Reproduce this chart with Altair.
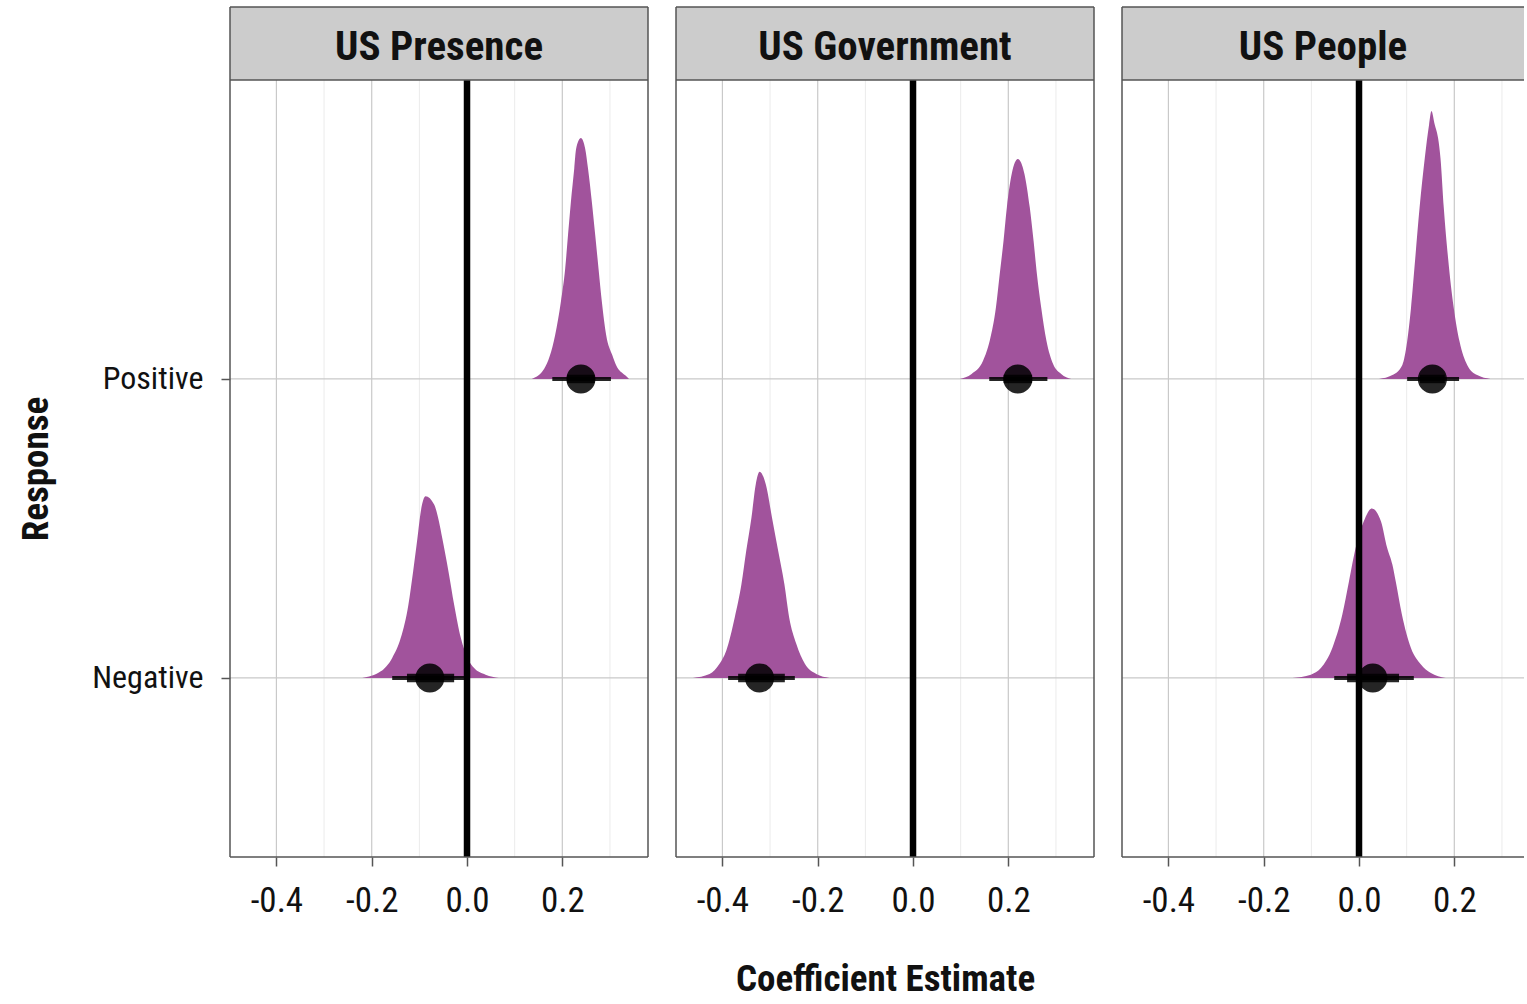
import altair as alt
import pandas as pd

FONT = "Roboto Condensed, DejaVu Sans Condensed, sans-serif"
PURPLE = "#A1539C"
FRAME = "#555555"

panels = ["US Presence", "US Government", "US People"]
responses = ["Negative", "Positive"]          # drawn at y = 1 and y = 2

# Posterior density outlines: coefficient value and scaled slab height
presence_pos_x = [0.136, 0.162, 0.185, 0.197, 0.206, 0.212, 0.218, 0.225, 0.229, 0.239,
                  0.248, 0.254, 0.262, 0.269, 0.276, 0.283, 0.292, 0.305, 0.313, 0.332, 0.340]
presence_pos_h = [0, 0.034, 0.147, 0.258, 0.369, 0.482, 0.592, 0.703, 0.770, 0.806,
                  0.770, 0.703, 0.592, 0.482, 0.369, 0.258, 0.147, 0.079, 0.046, 0.012, 0]
presence_neg_x = [-0.220, -0.181, -0.157, -0.139, -0.123, -0.113, -0.104, -0.097, -0.087,
                  -0.069, -0.059, -0.052, -0.039, -0.027, -0.013, 0.001, 0.015, 0.039, 0.067]
presence_neg_h = [0, 0.022, 0.067, 0.134, 0.245, 0.357, 0.468, 0.557, 0.608,
                  0.580, 0.524, 0.468, 0.357, 0.245, 0.134, 0.067, 0.033, 0.011, 0]
government_pos_x = [0.098, 0.123, 0.147, 0.161, 0.174, 0.182, 0.190, 0.197, 0.207, 0.220,
                    0.234, 0.245, 0.253, 0.260, 0.269, 0.280, 0.294, 0.311, 0.332]
government_pos_h = [0, 0.017, 0.061, 0.128, 0.239, 0.351, 0.462, 0.574, 0.685, 0.736,
                    0.685, 0.574, 0.462, 0.351, 0.239, 0.128, 0.050, 0.017, 0]
government_neg_x = [-0.462, -0.427, -0.406, -0.392, -0.374, -0.360, -0.350, -0.339, -0.330, -0.322,
                    -0.309, -0.296, -0.283, -0.270, -0.260, -0.245, -0.227, -0.203, -0.175]
government_neg_h = [0, 0.013, 0.047, 0.091, 0.203, 0.314, 0.425, 0.537, 0.648, 0.690,
                    0.648, 0.537, 0.425, 0.314, 0.203, 0.114, 0.047, 0.013, 0]
people_pos_x = [0.042, 0.070, 0.091, 0.101, 0.109, 0.118, 0.127, 0.138, 0.147, 0.152,
                0.159, 0.166, 0.171, 0.178, 0.187, 0.199, 0.211, 0.227, 0.248, 0.276]
people_pos_h = [0, 0.013, 0.047, 0.125, 0.236, 0.403, 0.571, 0.738, 0.850, 0.896,
                0.850, 0.805, 0.738, 0.571, 0.403, 0.236, 0.125, 0.047, 0.013, 0]
people_neg_x = [-0.140, -0.101, -0.080, -0.056, -0.035, -0.021, -0.007, 0.010, 0.027,
                0.046, 0.059, 0.070, 0.077, 0.090, 0.109, 0.130, 0.150, 0.182]
people_neg_h = [0, 0.011, 0.033, 0.100, 0.212, 0.323, 0.435, 0.524, 0.567,
                0.524, 0.435, 0.379, 0.323, 0.212, 0.100, 0.045, 0.017, 0]

# Point estimates and 66% / 95% intervals, ordered [Negative, Positive]
estimate = {"US Presence": [-0.078, 0.239], "US Government": [-0.322, 0.220], "US People": [0.029, 0.154]}
lo95 = {"US Presence": [-0.157, 0.179], "US Government": [-0.388, 0.160], "US People": [-0.052, 0.101]}
hi95 = {"US Presence": [-0.002, 0.302], "US Government": [-0.248, 0.282], "US People": [0.115, 0.210]}
lo66 = {"US Presence": [-0.126, 0.210], "US Government": [-0.367, 0.190], "US People": [-0.025, 0.128]}
hi66 = {"US Presence": [-0.027, 0.268], "US Government": [-0.269, 0.250], "US People": [0.084, 0.180]}

major_breaks = [-0.4, -0.2, 0.0, 0.2]
minor_breaks = [-0.3, -0.1, 0.1, 0.3]

densities = {
    ("US Presence", "Positive"): (presence_pos_x, presence_pos_h),
    ("US Presence", "Negative"): (presence_neg_x, presence_neg_h),
    ("US Government", "Positive"): (government_pos_x, government_pos_h),
    ("US Government", "Negative"): (government_neg_x, government_neg_h),
    ("US People", "Positive"): (people_pos_x, people_pos_h),
    ("US People", "Negative"): (people_neg_x, people_neg_h),
}

dens_rows = []
for (panel, resp), (xs, hs) in densities.items():
    base = responses.index(resp) + 1
    for xv, hv in zip(xs, hs):
        dens_rows.append({"panel": panel, "response": resp, "coef": xv,
                          "ybase": float(base), "ytop": base + hv})
dens_df = pd.DataFrame(dens_rows)

summ_rows = []
for panel in panels:
    for i, resp in enumerate(responses):
        summ_rows.append({"panel": panel, "response": resp, "pos": float(i + 1),
                          "est": estimate[panel][i], "lo95": lo95[panel][i], "hi95": hi95[panel][i],
                          "lo66": lo66[panel][i], "hi66": hi66[panel][i]})
summ_df = pd.DataFrame(summ_rows)

PX_PER_UNIT = 476.5          # horizontal pixels per unit of coefficient
X_MIN = -0.4974
STRIP_H = 73                 # grey strip holding the panel name
PLOT_H = 777                 # data region below the strip
Y_LO = 0.401
Y_HI = 3.0 + (3.0 - Y_LO) * STRIP_H / PLOT_H   # strip sits above y = 3.0
LABEL_EXPR = "(datum.value < 0 ? '-' : '') + format(abs(datum.value), '.1f')"


def make_panel(name, width, first, middle, open_right):
    total_h = STRIP_H + PLOT_H
    x_scale = alt.Scale(domain=[X_MIN, X_MIN + width / PX_PER_UNIT], nice=False, zero=False)
    y_scale = alt.Scale(domain=[Y_LO, Y_HI], nice=False, zero=False)

    x_axis = alt.Axis(values=major_breaks, labelExpr=LABEL_EXPR, grid=False, domain=False,
                      tickSize=9, tickWidth=1.5, tickColor=FRAME,
                      labelFont=FONT, labelFontSize=35, labelColor="#111111", labelPadding=17,
                      title="Coefficient Estimate" if middle else None,
                      titleFont=FONT, titleFontSize=37, titleFontWeight="bold",
                      titleColor="#111111", titlePadding=43)
    if first:
        y_axis = alt.Axis(values=[1, 2], labelExpr="datum.value == 1 ? 'Negative' : 'Positive'",
                          grid=False, domain=False, tickSize=9, tickWidth=1.5, tickColor=FRAME,
                          labelFont=FONT, labelFontSize=32, labelColor="#111111", labelPadding=18,
                          minExtent=175, maxExtent=175,
                          title="Response", titleFont=FONT, titleFontSize=37,
                          titleFontWeight="bold", titleColor="#111111", titlePadding=0,
                          titleY=STRIP_H + PLOT_H / 2)
    else:
        y_axis = None

    dens = dens_df[dens_df["panel"] == name].reset_index(drop=True)
    summ = summ_df[summ_df["panel"] == name].reset_index(drop=True)
    one = pd.DataFrame({"label": [name]})

    # vertical grid lines stop at the strip
    minor = alt.Chart(pd.DataFrame({"v": minor_breaks})).mark_rule(
        color="#EBEBEB", strokeWidth=1).encode(
        x=alt.X("v:Q", scale=x_scale, axis=x_axis), y=alt.value(STRIP_H), y2=alt.value(total_h))
    major = alt.Chart(pd.DataFrame({"v": major_breaks})).mark_rule(
        color="#C9C9C9", strokeWidth=1.2).encode(
        x=alt.X("v:Q", scale=x_scale, axis=x_axis), y=alt.value(STRIP_H), y2=alt.value(total_h))
    hgrid = alt.Chart(pd.DataFrame({"r": [1.0, 2.0]})).mark_rule(
        color="#C9C9C9", strokeWidth=1.2).encode(y=alt.Y("r:Q", scale=y_scale, axis=y_axis))

    slab = alt.Chart(dens).mark_area(color=PURPLE, orient="vertical", interpolate="monotone").encode(
        x=alt.X("coef:Q", scale=x_scale, axis=x_axis),
        y=alt.Y("ytop:Q", scale=y_scale, axis=y_axis),
        y2=alt.Y2("ybase:Q"),
        detail=alt.Detail("response:N"),
    )
    zero = alt.Chart(pd.DataFrame({"v": [0.0]})).mark_rule(color="#000000", strokeWidth=6.5).encode(
        x=alt.X("v:Q", scale=x_scale, axis=x_axis), y=alt.value(STRIP_H), y2=alt.value(total_h))
    thin = alt.Chart(summ).mark_rule(color="#000000", strokeWidth=4, opacity=0.85).encode(
        x=alt.X("lo95:Q", scale=x_scale, axis=x_axis), x2="hi95:Q",
        y=alt.Y("pos:Q", scale=y_scale, axis=y_axis))
    thick = alt.Chart(summ).mark_rule(color="#000000", strokeWidth=8.5, opacity=0.85).encode(
        x=alt.X("lo66:Q", scale=x_scale, axis=x_axis), x2="hi66:Q",
        y=alt.Y("pos:Q", scale=y_scale, axis=y_axis))
    point = alt.Chart(summ).mark_circle(size=760, color="#000000", opacity=0.85,
                                        stroke="#000000", strokeWidth=1.5).encode(
        x=alt.X("est:Q", scale=x_scale, axis=x_axis),
        y=alt.Y("pos:Q", scale=y_scale, axis=y_axis))

    strip = alt.Chart(one).mark_rect(fill="#CCCCCC").encode(
        x=alt.value(0), x2=alt.value(width), y=alt.value(0), y2=alt.value(STRIP_H))
    strip_text = alt.Chart(one).mark_text(
        font=FONT, fontSize=41, fontWeight="bold", color="#111111",
        baseline="alphabetic", align="center").encode(
        text="label:N", x=alt.value(width / 2), y=alt.value(53))

    # panel frame: horizontal edges plus left edge; right edge only when the panel is closed
    h_edges = alt.Chart(pd.DataFrame({"edge": [0, STRIP_H, total_h]})).mark_rule(
        color=FRAME, strokeWidth=1.5).encode(
        x=alt.value(0), x2=alt.value(width), y=alt.Y("edge:Q", scale=None))
    v_pos = [0] if open_right else [0, width]
    v_edges = alt.Chart(pd.DataFrame({"edge": v_pos})).mark_rule(
        color=FRAME, strokeWidth=1.5).encode(
        x=alt.X("edge:Q", scale=None), y=alt.value(0), y2=alt.value(total_h))

    return alt.layer(minor, major, hgrid, slab, zero, thin, thick, point,
                     strip, strip_text, h_edges, v_edges).properties(
        width=width, height=total_h,
        view=alt.ViewBackground(fill="white", stroke="transparent", strokeWidth=0))


chart = alt.hconcat(
    make_panel("US Presence", 418, True, False, False),
    make_panel("US Government", 418, False, True, False),
    make_panel("US People", 402, False, False, True),
    spacing=26,
).properties(
    padding={"left": 17, "top": 6, "right": 0, "bottom": 0},
    background="white",
)

chart.save("out.html", embed_options={"renderer": "svg", "actions": False})
